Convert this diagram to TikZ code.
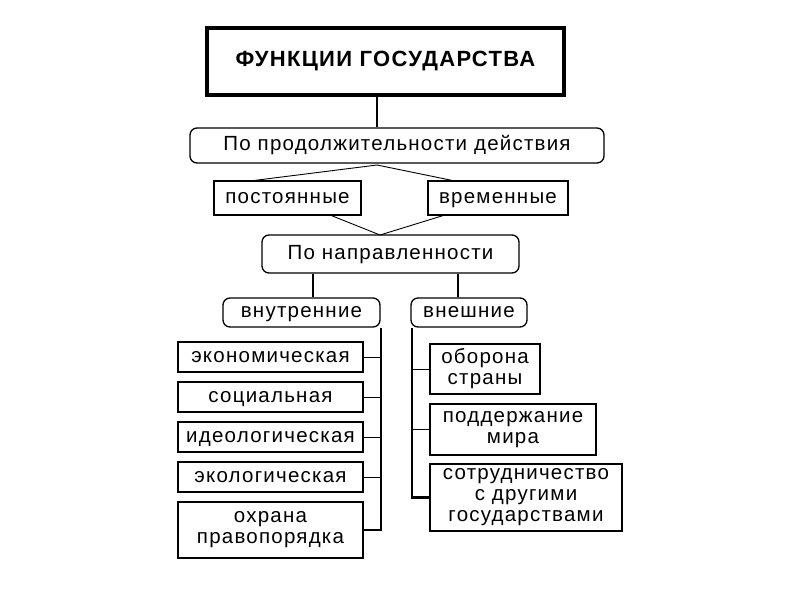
\documentclass[tikz,border=0pt]{standalone}
\usepackage{fontspec}
\setmainfont{Liberation Sans}[LetterSpace=6]
\begin{document}
\begin{tikzpicture}[x=1pt,y=-1pt,
  bx/.style={draw,line width=1.3pt,inner sep=0pt,font=\fontsize{20.5}{21}\selectfont,align=center},
  one/.style={text height=14pt,text depth=4pt},
  rb/.style={bx,one,rounded corners=7pt},
  ln/.style={line width=1.3pt},
  fl/.style={line width=2.2pt}]
\useasboundingbox (0,0) rectangle (800,600);
\fill[white] (0,0) rectangle (800,600);
\node[draw,line width=3.5pt,minimum width=357pt,minimum height=67pt,font=\bfseries\fontsize{22}{24}\selectfont] (t) at (385.5,61.5) {ФУНКЦИИ ГОСУДАРСТВА};
\node[rb,minimum width=414pt,minimum height=35pt] (p1) at (397,145.5) {По продолжительности действия};
\node[bx,one,minimum width=147pt,minimum height=34pt] (c1) at (287.5,198) {постоянные};
\node[bx,one,minimum width=140pt,minimum height=34pt] (c2) at (498,198) {временные};
\node[rb,minimum width=257pt,minimum height=38pt] (p2) at (390.5,254) {По направленности};
\node[rb,minimum width=157pt,minimum height=29pt] (vn) at (301.5,312.5) {внутренние};
\node[rb,minimum width=116pt,minimum height=29pt] (ex) at (469,312.5) {внешние};
\foreach \n/\y/\t in {a/357/экономическая,b/397/социальная,c/437/идеологическая,d/477/экологическая}
  \node[bx,one,minimum width=185pt,minimum height=30pt] (\n) at (270.5,\y) {\t};
\node[bx,minimum width=185pt,minimum height=56pt] (e) at (270.5,530) {охрана\\правопорядка};
\node[bx,minimum width=110pt,minimum height=50pt] (f) at (485,369) {оборона\\страны};
\node[bx,minimum width=166pt,minimum height=51pt] (g) at (513,429.5) {поддержание\\мира};
\node[bx,minimum width=192pt,minimum height=67pt] (h) at (526,497.5) {сотрудничество\\с другими\\государствами};
\draw[ln] (t.south -| 377,0) -- (p1.north -| 377,0);
\coordinate (m1) at (377,165);
\draw[line width=0.9pt] (m1) -- (250,181) (m1) -- (455,181);
\coordinate (m2) at (380,235);
\draw[line width=0.9pt] (330,215) -- (m2) -- (445,215);
\draw[ln] (p2.south -| 313,0) -- (vn.north -| 313,0);
\draw[ln] (p2.south -| 458,0) -- (ex.north -| 458,0);
\coordinate (lb) at (381,530);
\coordinate (rbt) at (412,497.5);
\draw[fl] (vn.south -| lb) -- (lb) -- (e.east);
\foreach \n in {a,b,c,d} \draw[line width=1pt] (\n.east) -- (\n.east -| lb);
\draw[fl] (ex.south -| rbt) -- (rbt) -- (h.west);
\draw[line width=0.8pt] (f.west -| rbt) -- (f.west);
\draw[line width=1pt] (g.west -| rbt) -- (g.west);
\end{tikzpicture}
\end{document}
